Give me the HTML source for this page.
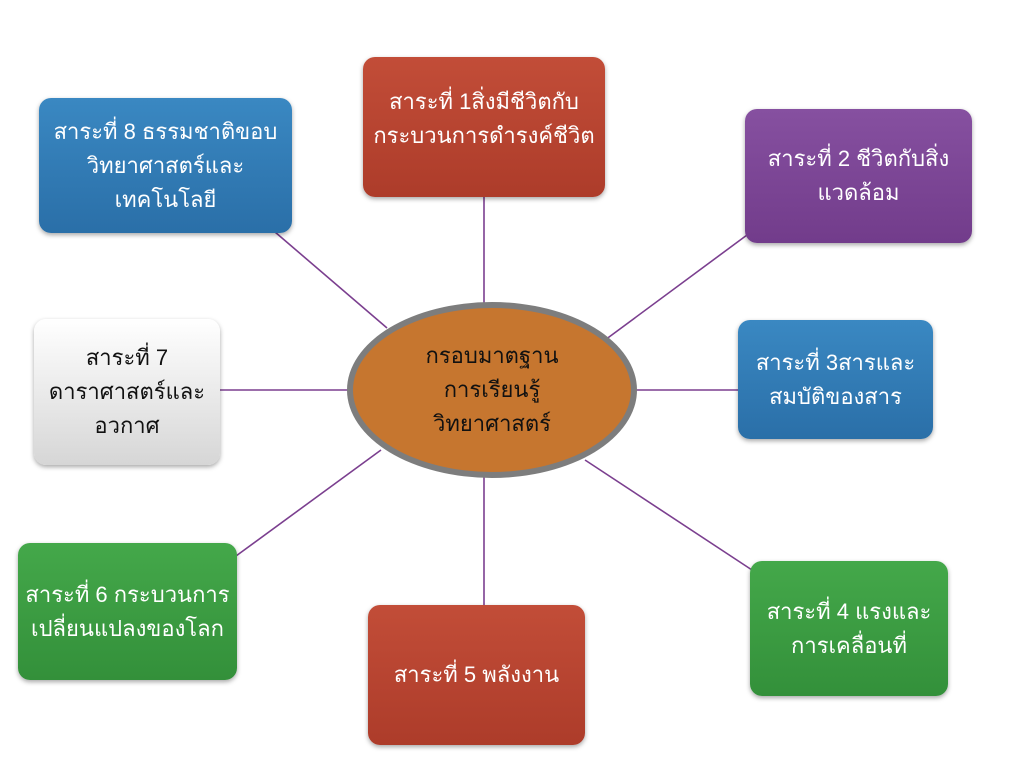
<!DOCTYPE html>
<html><head><meta charset="utf-8"><style>
body{margin:0;width:1024px;height:768px;background:#fff;position:relative;overflow:hidden;font-family:"Liberation Sans","DejaVu Sans",sans-serif}
.b{position:absolute;border-radius:12px;color:#fff;font-size:22px;line-height:34px;display:flex;align-items:center;justify-content:center;text-align:center;box-shadow:0 2px 5px rgba(0,0,0,.35)}
.r{background:linear-gradient(#c24d38,#ad3c2a)}
.p{background:linear-gradient(#8650a0,#723c8b)}
.bl{background:linear-gradient(#3a88c2,#2a6fa8)}
.g{background:linear-gradient(#44a84a,#33903a)}
.w{background:linear-gradient(#ffffff,#d6d6d6);color:#111}
svg{position:absolute;left:0;top:0}
.e{position:absolute;left:347px;top:302px;width:290px;height:176px;border-radius:50%;background:#c6762f;border:6px solid #7d7d7d;box-sizing:border-box;display:flex;align-items:center;justify-content:center;text-align:center;font-size:22px;line-height:34px;color:#111}
</style></head><body>
<svg width="1024" height="768"><g stroke="#7b3f8f" stroke-width="1.6">
<line x1="484" y1="175" x2="484" y2="305"/><line x1="605" y1="340" x2="747" y2="235"/>
<line x1="636" y1="390" x2="740" y2="390"/><line x1="585" y1="460" x2="752" y2="570"/>
<line x1="484" y1="476" x2="484" y2="606"/><line x1="381" y1="450" x2="236" y2="556"/>
<line x1="348" y1="390" x2="220" y2="390"/><line x1="387" y1="328" x2="275" y2="232"/>
</g></svg>
<div class="b r" style="left:363px;top:57px;width:242px;height:140px;align-items:flex-start;padding-top:28px;box-sizing:border-box">สาระที่ 1สิ่งมีชีวิตกับ<br>กระบวนการดำรงค์ชีวิต</div>
<div class="b p" style="left:745px;top:109px;width:227px;height:134px">สาระที่ 2 ชีวิตกับสิ่ง<br>แวดล้อม</div>
<div class="b bl" style="left:738px;top:320px;width:195px;height:119px">สาระที่ 3สารและ<br>สมบัติของสาร</div>
<div class="b g" style="left:750px;top:561px;width:198px;height:135px">สาระที่ 4 แรงและ<br>การเคลื่อนที่</div>
<div class="b r" style="left:368px;top:605px;width:217px;height:140px">สาระที่ 5 พลังงาน</div>
<div class="b g" style="left:18px;top:543px;width:219px;height:137px">สาระที่ 6 กระบวนการ<br>เปลี่ยนแปลงของโลก</div>
<div class="b w" style="left:34px;top:319px;width:186px;height:146px">สาระที่ 7<br>ดาราศาสตร์และ<br>อวกาศ</div>
<div class="b bl" style="left:39px;top:98px;width:253px;height:135px">สาระที่ 8 ธรรมชาติขอบ<br>วิทยาศาสตร์และ<br>เทคโนโลยี</div>
<div class="e">กรอบมาตฐาน<br>การเรียนรู้<br>วิทยาศาสตร์</div>
</body></html>
